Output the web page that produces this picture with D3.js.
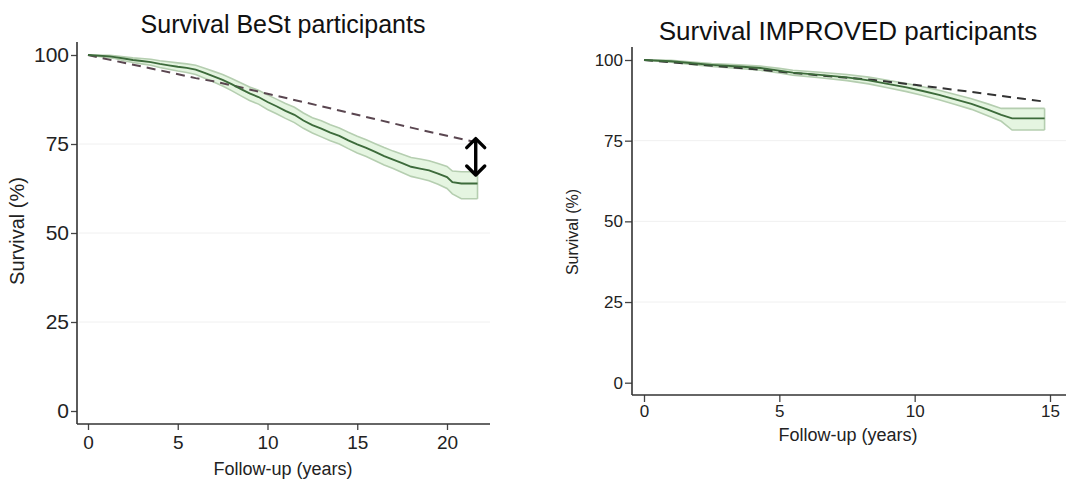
<!DOCTYPE html>
<html>
<head>
<meta charset="utf-8">
<script src="https://cdn.jsdelivr.net/npm/d3@7"></script>
<style>
  html, body { margin: 0; padding: 0; background: #ffffff; }
  svg { display: block; font-family: "Liberation Sans", Arial, sans-serif; }
</style>
</head>
<body>
<svg id="chart" width="1071" height="482"></svg>
<script>
// ---- BeSt cohort: Kaplan-Meier survival with 95% CI, plus expected (population) survival
const bestTime  = [0, 1.2, 1.5, 2.0, 2.5, 3.0, 3.5, 4.0, 4.5, 5.0, 5.5, 6.0, 6.5, 7.0, 7.5, 8.0, 8.5, 9.0, 9.5, 10, 10.5, 11, 11.5, 12, 12.5, 13, 13.5, 14, 14.5, 15, 15.5, 16, 16.5, 17, 17.5, 18, 18.5, 19, 19.5, 20, 20.3, 20.8, 21.7];
const bestSurv  = [100, 99.6, 99.4, 99.0, 98.6, 98.3, 98.0, 97.5, 97.1, 96.7, 96.4, 95.9, 95.0, 94.0, 93.0, 91.8, 90.5, 89.2, 88.2, 86.8, 85.6, 84.3, 83.2, 81.6, 80.3, 79.3, 78.2, 77.3, 76.0, 74.9, 73.9, 72.8, 71.6, 70.6, 69.6, 68.6, 68.1, 67.6, 66.7, 65.7, 64.3, 63.9, 63.9];
const bestLower = [100, 99.2, 99.0, 98.4, 97.9, 97.5, 97.1, 96.5, 96.0, 95.5, 95.1, 94.5, 93.5, 92.4, 91.3, 90.0, 88.6, 87.2, 86.2, 84.7, 83.5, 82.2, 81.0, 79.4, 78.1, 77.0, 75.9, 75.0, 73.7, 72.5, 71.5, 70.3, 69.1, 68.1, 67.0, 65.9, 65.3, 64.7, 63.7, 62.5, 61.0, 59.6, 59.6];
const bestUpper = [100, 99.9, 99.8, 99.5, 99.2, 99.0, 98.8, 98.4, 98.1, 97.8, 97.5, 97.1, 96.3, 95.4, 94.5, 93.4, 92.2, 91.0, 90.1, 88.8, 87.6, 86.4, 85.3, 83.7, 82.4, 81.5, 80.4, 79.5, 78.3, 77.2, 76.2, 75.1, 74.0, 73.0, 72.1, 71.2, 70.8, 70.3, 69.5, 68.7, 67.4, 67.2, 67.2];
const bestExpTime = [0, 2, 4, 6, 7, 8, 10, 12, 14, 16, 18, 20, 21.7];
const bestExp     = [100, 97.8, 95.7, 93.5, 92.6, 91.5, 89.1, 86.8, 84.4, 82.0, 79.6, 77.3, 75.4];
// gap between expected and observed survival at end of follow-up
const bestGapTime = 21.6;
const bestGap     = [76.5, 66.3];

// ---- IMPROVED cohort
const impTime  = [0, 1.0, 1.9, 2.5, 3.5, 4.3, 5.0, 5.5, 6.5, 7.5, 8.3, 9.0, 9.7, 10.3, 10.9, 11.5, 12.1, 12.7, 13.2, 13.6, 14.8];
const impSurv  = [100, 99.6, 98.9, 98.5, 98.0, 97.5, 96.7, 96.1, 95.4, 94.6, 93.7, 92.6, 91.5, 90.4, 89.2, 87.8, 86.4, 84.6, 83.0, 81.9, 81.9];
const impLower = [100, 99.3, 98.5, 98.0, 97.4, 96.8, 96.0, 95.3, 94.5, 93.6, 92.6, 91.4, 90.2, 89.0, 87.7, 86.2, 84.7, 82.7, 81.0, 78.3, 78.3];
const impUpper = [100, 99.9, 99.3, 98.9, 98.5, 98.1, 97.4, 96.8, 96.2, 95.5, 94.7, 93.7, 92.7, 91.7, 90.6, 89.3, 88.0, 86.4, 85.0, 85.0, 85.0];
const impExpTime = [0, 2, 4, 6, 8.5, 10, 12, 14, 14.8];
const impExp     = [100, 98.6, 97.2, 95.6, 93.8, 92.3, 90.2, 88.0, 87.1];

// ---- axis ticks and labels
const yTicks = [0, 25, 50, 75, 100];
const bestXTicks = [0, 5, 10, 15, 20];
const impXTicks = [0, 5, 10, 15];
const bestTitle = "Survival BeSt participants";
const impTitle = "Survival IMPROVED participants";
const xLabel = "Follow-up (years)";
const yLabel = "Survival (%)";

const svg = d3.select("#chart");

function drawPanel(p) {
  const x = d3.scaleLinear().domain(p.xDomain).range(p.xRange);
  const y = d3.scaleLinear().domain([0, 100]).range(p.yRange);
  const g = svg.append("g");

  // faint horizontal gridlines
  g.selectAll("line.grid").data([25, 50, 75]).join("line")
    .attr("x1", p.axisX + 2).attr("x2", p.axisXEnd)
    .attr("y1", d => y(d)).attr("y2", d => y(d))
    .attr("stroke", "#f0f0f0").attr("stroke-width", 1);

  const km = p.time.map((t, i) => ({ t, s: p.surv[i], lo: p.lower[i], hi: p.upper[i] }));

  // confidence band
  g.append("path").datum(km)
    .attr("d", d3.area().x(d => x(d.t)).y0(d => y(d.lo)).y1(d => y(d.hi)))
    .attr("fill", "#e5f5e1");
  // band edges
  ["lo", "hi"].forEach(k => {
    g.append("path").datum(km)
      .attr("d", d3.line().x(d => x(d.t)).y(d => y(d[k])))
      .attr("fill", "none").attr("stroke", "#b5ceb0").attr("stroke-width", 1.6);
  });
  // closing edge of band at end of follow-up
  const last = km[km.length - 1];
  g.append("line")
    .attr("x1", x(last.t)).attr("x2", x(last.t))
    .attr("y1", y(last.lo)).attr("y2", y(last.hi))
    .attr("stroke", "#b5ceb0").attr("stroke-width", 1.6);

  // expected survival
  const exp = p.expTime.map((t, i) => ({ t, s: p.exp[i] }));
  g.append("path").datum(exp)
    .attr("d", d3.line().x(d => x(d.t)).y(d => y(d.s)))
    .attr("fill", "none").attr("stroke", p.expColor).attr("stroke-width", 2)
    .attr("stroke-dasharray", "9,6");

  // observed survival
  g.append("path").datum(km)
    .attr("d", d3.line().x(d => x(d.t)).y(d => y(d.s)))
    .attr("fill", "none").attr("stroke", "#3d6b3b").attr("stroke-width", 1.9);

  // axes
  const yAxis = d3.axisLeft(y).tickValues(yTicks).tickSize(p.tick).tickPadding(2);
  const gy = g.append("g").attr("transform", `translate(${p.axisX},0)`).call(yAxis);
  const xAxis = d3.axisBottom(x).tickValues(p.xTicks).tickSize(p.tick).tickPadding(p.xPad);
  const gx = g.append("g").attr("transform", `translate(0,${p.axisY})`).call(xAxis);
  [gy, gx].forEach(a => {
    a.select(".domain").remove();
    a.attr("font-family", null).attr("font-size", null);
    a.selectAll(".tick line").attr("stroke", "#444").attr("stroke-width", 1.3);
    a.selectAll(".tick text").attr("fill", "#222");
  });
  gy.selectAll(".tick text").attr("font-size", p.yTickSize);
  gx.selectAll(".tick text").attr("font-size", p.xTickSize);

  g.append("line").attr("x1", p.axisX).attr("x2", p.axisX)
    .attr("y1", p.axisYTop).attr("y2", p.axisY)
    .attr("stroke", "#333").attr("stroke-width", 1.6);
  g.append("line").attr("x1", p.axisX).attr("x2", p.axisXEnd)
    .attr("y1", p.axisY).attr("y2", p.axisY)
    .attr("stroke", "#333").attr("stroke-width", 1.6);

  // titles
  g.append("text").attr("x", p.titleX).attr("y", p.titleY)
    .attr("text-anchor", "middle").attr("font-size", p.titleSize).attr("fill", "#111")
    .text(p.title);
  g.append("text").attr("x", p.xLabelX).attr("y", p.xLabelY)
    .attr("text-anchor", "middle").attr("font-size", p.labelSize).attr("fill", "#222")
    .text(xLabel);
  g.append("text")
    .attr("transform", `translate(${p.yLabelX},${p.yLabelY}) rotate(-90)`)
    .attr("text-anchor", "middle").attr("font-size", p.yLabelSize).attr("fill", "#222")
    .text(yLabel);

  return { g, x, y };
}

const left = drawPanel({
  time: bestTime, surv: bestSurv, lower: bestLower, upper: bestUpper,
  expTime: bestExpTime, exp: bestExp, expColor: "#5a4650",
  xDomain: [0, 20], xRange: [88, 447], yRange: [411, 55],
  axisX: 77, axisXEnd: 490, axisY: 424, axisYTop: 42,
  xTicks: bestXTicks, tick: 6, xPad: 6,
  yTickSize: 21, xTickSize: 19,
  title: bestTitle, titleX: 283, titleY: 33, titleSize: 25,
  xLabelX: 283, xLabelY: 475, labelSize: 18,
  yLabelX: 24, yLabelY: 231, yLabelSize: 20
});

drawPanel({
  time: impTime, surv: impSurv, lower: impLower, upper: impUpper,
  expTime: impExpTime, exp: impExp, expColor: "#333333",
  xDomain: [0, 15], xRange: [644, 1050], yRange: [382.7, 60],
  axisX: 632, axisXEnd: 1066, axisY: 395, axisYTop: 47,
  xTicks: impXTicks, tick: 7, xPad: 3,
  yTickSize: 17, xTickSize: 17,
  title: impTitle, titleX: 848, titleY: 40, titleSize: 26,
  xLabelX: 848, xLabelY: 441, labelSize: 18,
  yLabelX: 578, yLabelY: 232, yLabelSize: 16
});

// double-headed arrow marking the survival gap in the BeSt cohort
const ax = left.x(bestGapTime);
const ay1 = left.y(bestGap[0]);
const ay2 = left.y(bestGap[1]);
const arrow = left.g.append("g").attr("stroke", "#000").attr("stroke-width", 3.4)
  .attr("fill", "none").attr("stroke-linecap", "round").attr("stroke-linejoin", "round");
arrow.append("line").attr("x1", ax).attr("x2", ax).attr("y1", ay1 + 1).attr("y2", ay2 - 1);
arrow.append("path").attr("d", `M${ax - 9},${ay1 + 9}L${ax},${ay1}L${ax + 9},${ay1 + 9}`);
arrow.append("path").attr("d", `M${ax - 9},${ay2 - 9}L${ax},${ay2}L${ax + 9},${ay2 - 9}`);
</script>
</body>
</html>
